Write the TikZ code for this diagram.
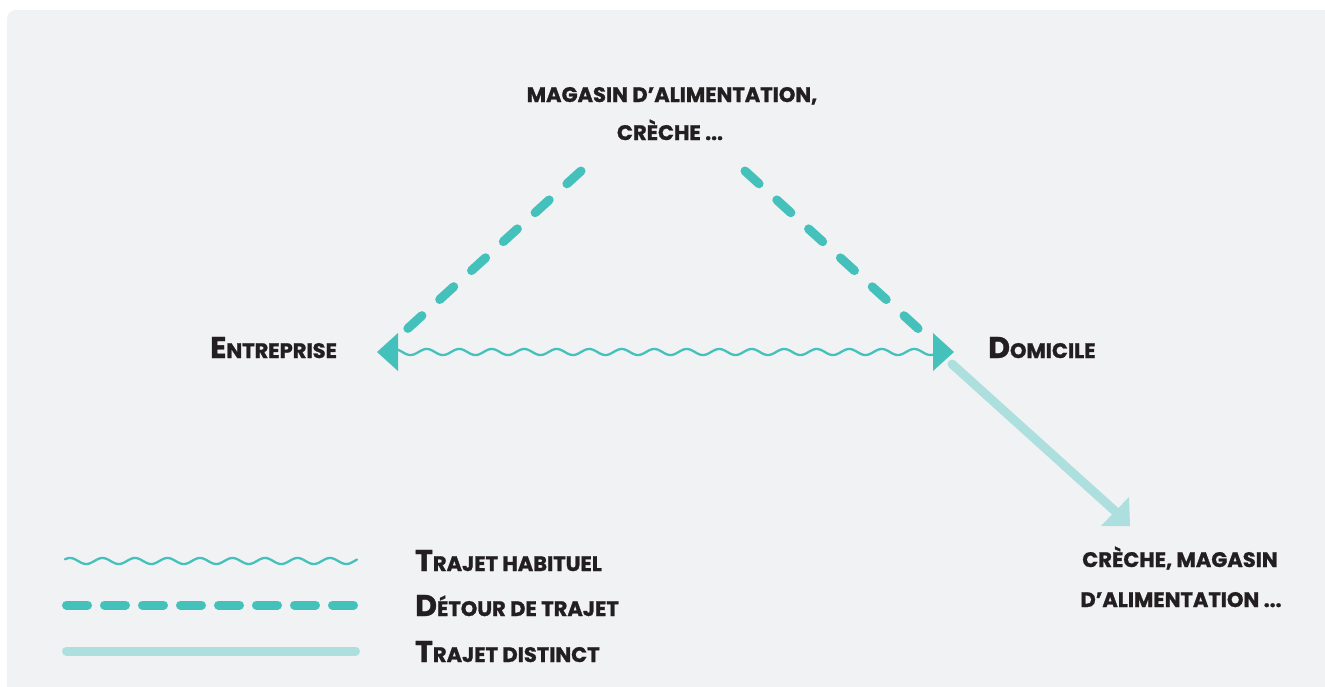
\documentclass[tikz,border=0pt]{standalone}
\usepackage{fontspec}
\setmainfont{Poppins}[BoldFeatures={FakeBold=1.2}]
\definecolor{bgc}{HTML}{F1F2F4}
\definecolor{tealc}{HTML}{45C1BC}
\definecolor{ltealc}{HTML}{ACDFDD}
\definecolor{inkc}{HTML}{231F20}
\newcommand\capL[1]{{\fontsize{30}{30}\selectfont #1}}
\tikzset{
  lbl/.style={text=inkc, font=\bfseries\fontsize{21}{37}\selectfont, align=center, inner sep=0pt, anchor=base},
  leg/.style={text=inkc, font=\bfseries\fontsize{21}{26}\selectfont, inner sep=0pt, anchor=base west},
  wavy/.style={tealc, line width=2.3pt},
  detour/.style={tealc, line width=9pt, line cap=round, dash pattern=on 19pt off 24pt},
  legdetour/.style={tealc, line width=9pt, line cap=round, dash pattern=on 21pt off 17pt},
  distinct/.style={ltealc, line width=9pt, line cap=round},
  headfill/.style={fill=tealc},
}
\begin{document}
\begin{tikzpicture}[x=1pt,y=-1pt]
\useasboundingbox (0,0) rectangle (1325,686);
\clip (0,0) rectangle (1325,686);
\fill[white] (0,0) rectangle (1325,686);
\fill[bgc, rounded corners=9pt] (7,10) rectangle (1345,710);

% labels
\node[lbl] (top1) at (672,102) {MAGASIN D’ALIMENTATION,};
\node[lbl] (top2) at (670,140) {CRÈCHE ...};
\node[lbl, anchor=base west] (ent) at (210,358) {\capL{E}NTREPRISE};
\node[lbl, anchor=base west] (dom) at (988,358) {\capL{D}OMICILE};
\node[lbl] (bot1) at (1180,567) {CRÈCHE, MAGASIN};
\node[lbl] (bot2) at (1181,607) {D’ALIMENTATION ...};

% coordinates
\coordinate (dlt) at (581,171);
\coordinate (dlb) at (405,331);
\coordinate (drt) at (745,171);
\coordinate (drb) at (923,333);
\coordinate (ls) at (952,364);
\coordinate (le) at (1116,512);

% usual route
\draw[wavy] plot[domain=397:934, samples=400, smooth] (\x, {352-3*cos((\x-426.7)*11.0769)});
\fill[headfill] (377,352) -- (398,333) -- (398,371) -- cycle;
\fill[headfill] (954,352) -- (933,333) -- (933,371) -- cycle;

% detours
\draw[detour] (dlt) -- (dlb);
\draw[detour] (drt) -- (drb);

% distinct route
\draw[distinct] (ls) -- (le);
\fill[ltealc] (1129,497) -- (1101,526) -- (1130,526) -- cycle;

% legend
\coordinate (ld1) at (66.5,605);
\coordinate (ld2) at (355.5,605);
\coordinate (lt1) at (66.5,651);
\coordinate (lt2) at (355.5,651);
\draw[wavy, line cap=round] plot[domain=65:357, samples=300, smooth] (\x, {561-3*cos((\x-70)*11.0769)});
\draw[legdetour] (ld1) -- (ld2);
\draw[distinct] (lt1) -- (lt2);
\node[leg] (leg1) at (415,571) {\capL{T}RAJET HABITUEL};
\node[leg] (leg2) at (415,616) {\capL{D}ÉTOUR DE TRAJET};
\node[leg] (leg3) at (415,662) {\capL{T}RAJET DISTINCT};
\end{tikzpicture}
\end{document}
